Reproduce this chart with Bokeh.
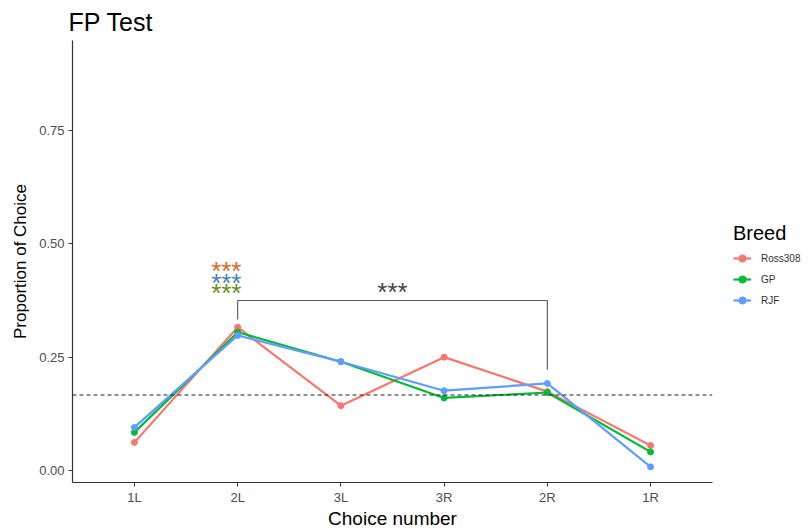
from bokeh.plotting import figure
from bokeh.models import (ColumnDataSource, Legend, LegendItem, Span, FixedTicker,
                          Range1d)
from bokeh.embed import file_html
from bokeh.resources import INLINE
from bokeh.core.properties import value

# ---- data ----
categories = ["1L", "2L", "3L", "3R", "2R", "1R"]
ross308 = [0.062, 0.316, 0.143, 0.250, 0.174, 0.055]
gp = [0.084, 0.305, 0.240, 0.160, 0.172, 0.041]
rjf = [0.095, 0.298, 0.240, 0.176, 0.192, 0.008]
series_names = ["Ross308", "GP", "RJF"]
series_colors = ["#F8766D", "#00BA38", "#619CFF"]
chance_level = 1 / 6
y_ticks = [0.0, 0.25, 0.5, 0.75]
y_tick_labels = ["0.00", "0.25", "0.50", "0.75"]

# significance annotations
bracket_from = "2L"
bracket_to = "2R"
bracket_y = 0.375
bracket_left_end = 0.333
bracket_right_end = 0.223
bracket_star_y = 0.393
group_star_levels = [0.439, 0.413, 0.392]
group_star_colors = ["#D2691E", "#4682B4", "#6B8E23"]

xpos = list(range(1, len(categories) + 1))

p = figure(frame_width=640, frame_height=442, output_backend="svg", toolbar_location=None,
           x_range=Range1d(0.4, 6.6), y_range=Range1d(-0.0265, 0.9485),
           title="FP Test", min_border_left=72, min_border_top=33,
           min_border_right=96, min_border_bottom=0)

p.background_fill_color = "white"
p.border_fill_color = "white"
p.outline_line_color = None
p.xgrid.grid_line_color = None
p.ygrid.grid_line_color = None

p.title.text_font = "Liberation Sans"
p.title.text_font_size = "25px"
p.title.text_font_style = "normal"
p.title.text_color = "black"
p.title.offset = -4

for ax in (p.xaxis[0], p.yaxis[0]):
    ax.axis_line_color = "#333333"
    ax.axis_line_width = 1.2
    ax.major_tick_line_color = "#333333"
    ax.major_tick_out = 4
    ax.major_tick_in = 0
    ax.minor_tick_line_color = None
    ax.major_label_text_font = "Liberation Sans"
    ax.major_label_text_font_size = "13px"
    ax.major_label_text_color = "#4D4D4D"
    ax.axis_label_text_font = "Liberation Sans"
    ax.axis_label_text_font_style = "normal"
    ax.axis_label_text_color = "black"
    ax.major_label_standoff = 4

p.xaxis.ticker = FixedTicker(ticks=xpos)
p.xaxis.major_label_overrides = {x: c for x, c in zip(xpos, categories)}
p.xaxis.axis_label = "Choice number"
p.xaxis.axis_label_text_font_size = "19px"
p.xaxis.axis_label_standoff = 0
p.xaxis.major_label_standoff = 3
p.yaxis.ticker = FixedTicker(ticks=y_ticks)
p.yaxis.major_label_overrides = {t: l for t, l in zip(y_ticks, y_tick_labels)}
p.yaxis.axis_label = "Proportion of Choice"
p.yaxis.axis_label_text_font_size = "17px"
p.yaxis.axis_label_standoff = 6

# chance level
p.add_layout(Span(location=chance_level, dimension="width", line_color="#222222",
                  line_dash="4 3", line_width=1.1))

items = []
for name, vals, col in zip(series_names, [ross308, gp, rjf], series_colors):
    src = ColumnDataSource(dict(x=xpos, y=vals))
    r1 = p.line("x", "y", source=src, line_color=col, line_width=2.2)
    r2 = p.scatter("x", "y", source=src, size=6, color=col)
    items.append(LegendItem(label=name, renderers=[r1, r2]))

# bracket
xa = xpos[categories.index(bracket_from)]
xb = xpos[categories.index(bracket_to)]
p.line([xa, xa, xb, xb], [bracket_left_end, bracket_y, bracket_y, bracket_right_end],
       line_color="#555555", line_width=1.1)
p.text(x=[(xa + xb) / 2], y=[bracket_star_y], text=["***"], text_color="#444444",
       text_font=value("Liberation Sans"), text_font_size="26px",
       text_align="center", text_baseline="middle")

p.text(x=[xa - 0.11] * 3, y=group_star_levels, text=["***"] * 3,
       text_color=group_star_colors, text_font=value("Liberation Sans"),
       text_font_size="26px", text_align="center", text_baseline="middle")

legend = Legend(items=items, title="Breed", location=(21, 172))
legend.title_text_font = "Liberation Sans"
legend.title_text_font_size = "20px"
legend.title_text_font_style = "normal"
legend.title_text_color = "black"
legend.title_standoff = 3
legend.label_text_font = "Liberation Sans"
legend.label_text_font_size = "10px"
legend.label_text_color = "#333333"
legend.label_standoff = 10
legend.border_line_color = None
legend.background_fill_alpha = 0
legend.glyph_width = 18
legend.spacing = 1
legend.padding = 0
legend.margin = 0
p.add_layout(legend, "right")

open("out.html", "w").write(file_html(p, INLINE))
